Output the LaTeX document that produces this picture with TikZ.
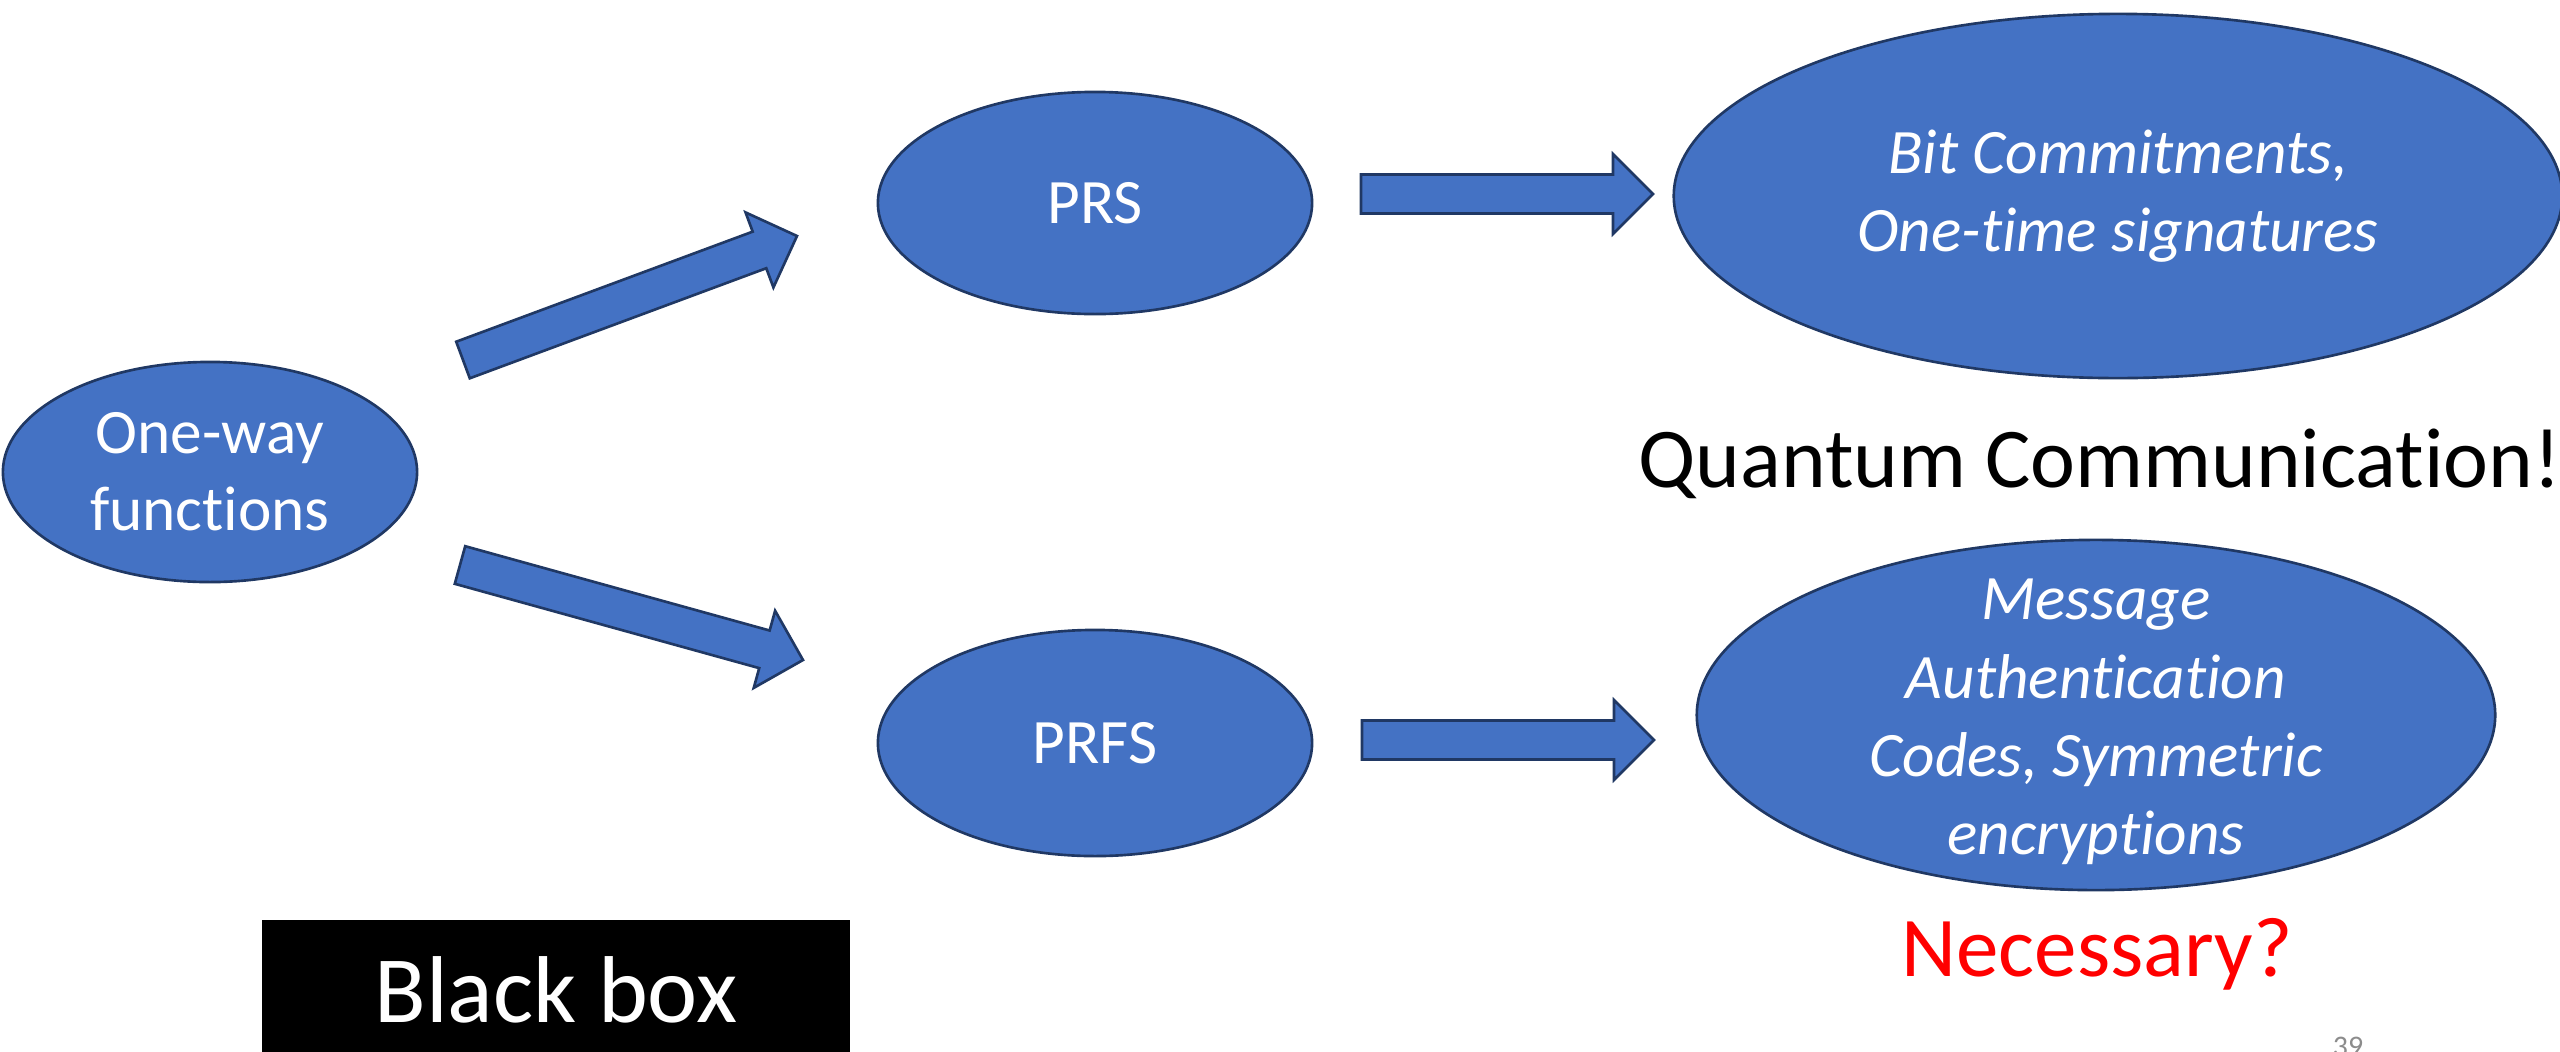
\documentclass[tikz,border=0pt]{standalone}
\usepackage{fontspec}
\setmainfont{Carlito}[Ligatures=NoCommon]
\usetikzlibrary{calc, positioning, shapes.geometric}
\definecolor{blobfill}{HTML}{4472C4}
\definecolor{blobline}{HTML}{203864}
\definecolor{pagegrey}{HTML}{8C8C8C}
\tikzset{
  blob/.style={ellipse, draw=blobline, fill=blobfill, line width=0.75pt, text=white, align=center, inner sep=0pt, font=\fontsize{18}{22}\selectfont},
  blobit/.style={blob, font=\fontsize{18}{22}\selectfont\itshape},
  blobtext/.style={text=white, align=center, font=\fontsize{18}{22.3}\selectfont\itshape},
  fat/.style={draw=blobline, fill=blobfill, line width=0.75pt, line join=miter}
}
% block arrow from tail #1 to tip #2
\newcommand{\fatarrow}[2]{%
  \coordinate (head) at ($(#2)!0.4cm!(#1)$);
  \filldraw[fat] ($(#1)!0.195cm!90:(#2)$) -- ($(head)!0.195cm!-90:(#1)$)
    -- ($(head)!0.4cm!-90:(#1)$) -- (#2) -- ($(head)!0.4cm!90:(#1)$)
    -- ($(head)!0.195cm!90:(#1)$) -- ($(#1)!0.195cm!-90:(#2)$) -- cycle;
}

\begin{document}
\begin{tikzpicture}[x=0.01cm, y=-0.01cm]
    \useasboundingbox (0,0) rectangle (2560,1051);
    \node[blob, minimum width=4.14cm, minimum height=2.2cm] (owf) at (210,472) {One-way\\functions};
    \node[blob, minimum width=4.34cm, minimum height=2.22cm] (prs) at (1095,203) {PRS};
    \node[blob, minimum width=4.34cm, minimum height=2.26cm] (prfs) at (1095,743) {PRFS};
    \node[blobit, minimum width=8.88cm, minimum height=3.64cm] (bc) at (2118,196) {Bit Commitments,\\One-time signatures};
    \node[blob, minimum width=7.98cm, minimum height=3.5cm,
      label={[blobtext, yshift=-0.07cm]center:{Message\\Authentication\\Codes, Symmetric\\encryptions}}] (mac) at (2096,715) {};
    \node[anchor=base west, font=\fontsize{24.2}{29}\selectfont] (qc) at (1626,487) {Quantum Communication!};
    \node[anchor=base, text=red, font=\fontsize{24.2}{29}\selectfont] (need) at (2097,976) {Necessary?};
    \node[anchor=north west, fill=black, text=white, minimum width=5.88cm, minimum height=1.4cm, font=\fontsize{27}{32}\selectfont] (bb) at (261,919) {Black box};
    \node[anchor=base, text=pagegrey, font=\fontsize{8.5}{10}\selectfont] (pg) at (2348,1056) {39};
    % arrows
    \coordinate (up0) at (463,360);
    \coordinate (up1) at (797,236);
    \coordinate (dn0) at (460,565);
    \coordinate (dn1) at (803,660);
    \coordinate (top0) at (1361,194);
    \coordinate (top1) at (1653,194);
    \coordinate (bot0) at (1362,740);
    \coordinate (bot1) at (1654,740);
    \fatarrow{up0}{up1}
    \fatarrow{dn0}{dn1}
    \fatarrow{top0}{top1}
    \fatarrow{bot0}{bot1}
\end{tikzpicture}
\end{document}
